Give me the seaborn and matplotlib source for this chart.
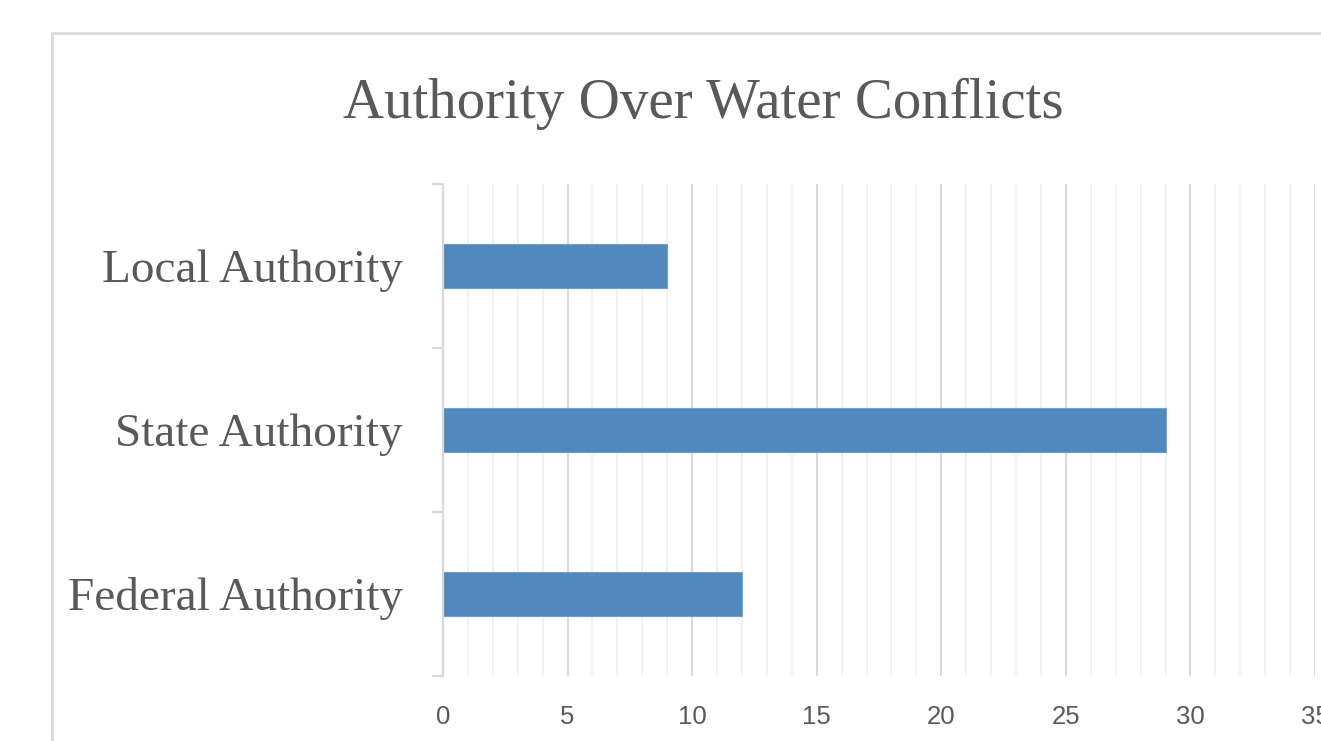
import matplotlib.pyplot as plt
import matplotlib.patches as mpatches
import seaborn as sns
from matplotlib.ticker import MultipleLocator

# Chart data
categories = ['Local Authority', 'State Authority', 'Federal Authority']
counts = [9, 29, 12]
x_ticks = [0, 5, 10, 15, 20, 25, 30, 35]

bar_color = '#4f89bd'
text_gray = '#595959'
grid_major = '#d9d9d9'
grid_minor = '#f0f0f0'

sns.set_style('white')
plt.rcParams['font.family'] = ['Liberation Serif', 'DejaVu Serif']

fig = plt.figure(figsize=(13.21, 7.41), dpi=100)
ax = fig.add_axes([443 / 1321, 1 - 676 / 741, (1315 - 443) / 1321, (676 - 184) / 741])

sns.barplot(x=counts, y=categories, orient='h', color=bar_color, width=0.27,
            edgecolor='#6fa0cc', linewidth=0.8, saturation=1, ax=ax)

# Axis limits and gridlines
ax.set_xlim(0, 35)
ax.set_ylim(2.5, -0.5)
ax.set_xticks(x_ticks)
ax.xaxis.set_minor_locator(MultipleLocator(1))
ax.grid(axis='x', which='major', color=grid_major, linewidth=1.4)
ax.grid(axis='x', which='minor', color=grid_minor, linewidth=1.2)
ax.grid(axis='y', visible=False)
ax.set_axisbelow(True)

for side in ['top', 'right', 'bottom']:
    ax.spines[side].set_visible(False)
ax.spines['left'].set_color(grid_major)
ax.spines['left'].set_linewidth(1.6)

# Tick styling
ax.tick_params(axis='x', which='both', length=0, pad=21, labelsize=18.5, labelcolor=text_gray)
for lbl in ax.get_xticklabels():
    lbl.set_family(['Liberation Sans Narrow', 'Liberation Sans'])
ax.set_yticks([-0.5, 0.5, 1.5, 2.5], minor=True)
ax.tick_params(axis='y', which='minor', left=True, length=8, width=1.6, color=grid_major, direction='out')
ax.tick_params(axis='y', which='major', left=False, length=0, pad=29, labelsize=34, labelcolor=text_gray)
ax.set_xlabel('')
ax.set_ylabel('')

# Title
fig.text(703 / 1321, 1 - 104 / 741, 'Authority Over Water Conflicts', ha='center', va='center',
         fontsize=41, color=text_gray)

# Chart border (cropped on right and bottom)
border = mpatches.Rectangle((52 / 1321, -0.05), 1.0, 0.05 + (1 - 33 / 741), transform=fig.transFigure,
                            fill=False, edgecolor=grid_major, linewidth=2, zorder=0)
fig.add_artist(border)

fig.savefig('out.png', dpi=100, facecolor='white')
